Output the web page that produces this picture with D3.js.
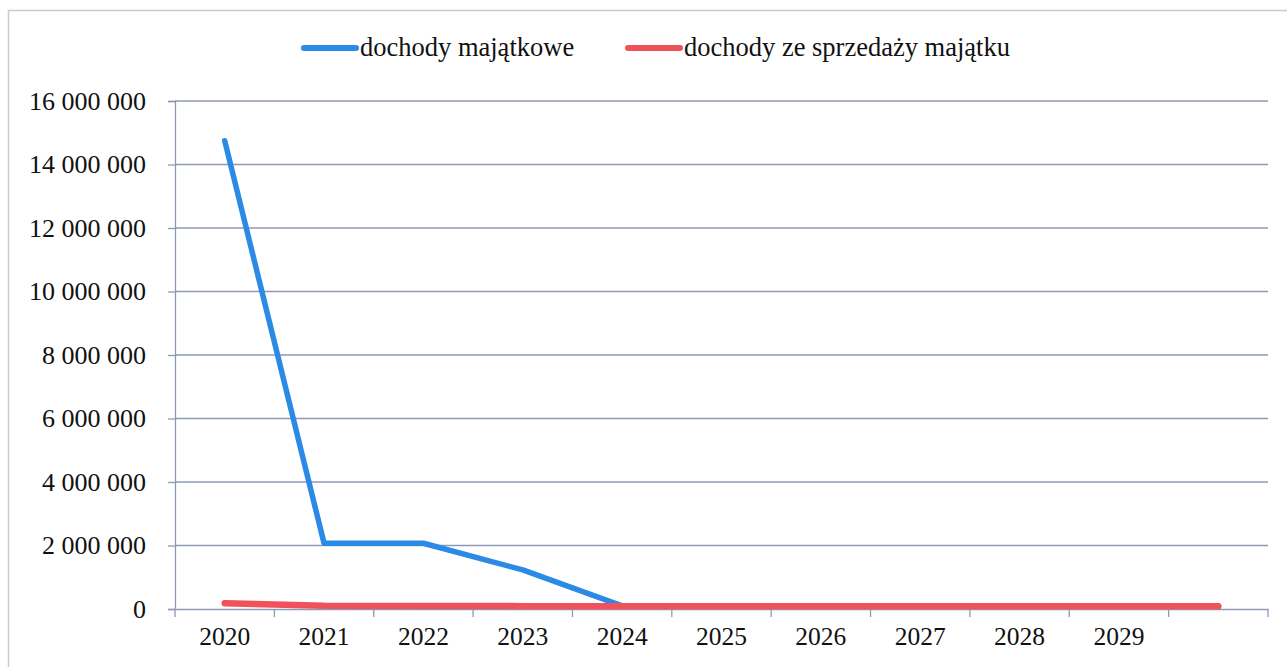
<!DOCTYPE html>
<html><head><meta charset="utf-8">
<script src="https://cdn.jsdelivr.net/npm/d3@7"></script>
<style>html,body{margin:0;padding:0;background:#fff;}svg{display:block;font-family:"Liberation Serif","Times New Roman",serif;}</style>
</head><body>
<svg id="c" width="1287" height="667"></svg>
<script>
const categories = ["2020","2021","2022","2023","2024","2025","2026","2027","2028","2029","2030"];
const tickLabels = ["2020","2021","2022","2023","2024","2025","2026","2027","2028","2029",""];
const seriesNames = ["dochody majątkowe","dochody ze sprzedaży majątku"];
const majatkowe = [14750000,2070000,2070000,1230000,100000,90000,90000,90000,90000,90000,90000];
const sprzedaz = [180000,100000,95000,90000,90000,90000,90000,90000,90000,90000,90000];
const yTicks = [0,2000000,4000000,6000000,8000000,10000000,12000000,14000000,16000000];
const colors = ["#2b8ae5","#f0525c"];

const svg = d3.select("#c");
const pLeft = 175, pRight = 1268, pTop = 101, pBottom = 609;

svg.append("rect").attr("x",8.5).attr("y",10.5).attr("width",1300).attr("height",700)
  .attr("fill","none").attr("stroke","#c8ccd4").attr("stroke-width",1.5);

const x = d3.scaleBand().domain(categories).range([pLeft,pRight]).padding(0);
const y = d3.scaleLinear().domain([0,16000000]).range([pBottom,pTop]);

const fmt = v => d3.format(",")(v).replace(/,/g," ");

// gridlines
svg.append("g").selectAll("line").data(yTicks.filter(d=>d>0)).join("line")
  .attr("x1",pLeft).attr("x2",pRight).attr("y1",d=>y(d)).attr("y2",d=>y(d))
  .attr("stroke","#8e9ab4").attr("stroke-width",1.3);

// y axis
const ya = svg.append("g").attr("transform",`translate(${pLeft},0)`)
  .call(d3.axisLeft(y).tickValues(yTicks).tickFormat(fmt).tickSize(7).tickPadding(22));
ya.select(".domain").attr("stroke","#8e9ab4").attr("stroke-width",1.3);
ya.selectAll(".tick line").attr("stroke","#8e9ab4").attr("stroke-width",1.3);
ya.selectAll("text").attr("font-size",26).attr("fill","#111").attr("font-family","Liberation Serif");

// x axis
const xa = svg.append("g").attr("transform",`translate(0,${pBottom})`)
  .call(d3.axisBottom(x).tickFormat((d,i)=>tickLabels[i]).tickSize(0).tickPadding(18));
xa.select(".domain").attr("stroke","#8e9ab4").attr("stroke-width",1.3);
xa.selectAll("text").attr("font-size",25.5).attr("fill","#111").attr("font-family","Liberation Serif");
const bounds = categories.map(c=>x(c)).concat([pRight]);
svg.append("g").selectAll("line").data(bounds).join("line")
  .attr("x1",d=>d).attr("x2",d=>d).attr("y1",pBottom).attr("y2",pBottom+8)
  .attr("stroke","#8e9ab4").attr("stroke-width",1.3);

const cx = d => x(d) + x.bandwidth()/2;
const line = d3.line().x((d,i)=>cx(categories[i])).y(d=>y(d));
const series = [majatkowe, sprzedaz];
series.forEach((s,k)=>{
  svg.append("path").datum(s).attr("d",line).attr("fill","none")
    .attr("stroke",colors[k]).attr("stroke-width",k===0?5.5:6.5)
    .attr("stroke-linecap","round").attr("stroke-linejoin","round");
});

// legend
const leg = [{x:302,name:seriesNames[0],c:colors[0]},{x:626,name:seriesNames[1],c:colors[1]}];
leg.forEach(l=>{
  svg.append("line").attr("x1",l.x+2).attr("x2",l.x+54).attr("y1",48).attr("y2",48)
    .attr("stroke",l.c).attr("stroke-width",6).attr("stroke-linecap","round");
  svg.append("text").attr("x",l.x+58).attr("y",56).attr("font-size",26.5).attr("fill","#111")
    .attr("font-family","Liberation Serif").text(l.name);
});
</script>
</body></html>
